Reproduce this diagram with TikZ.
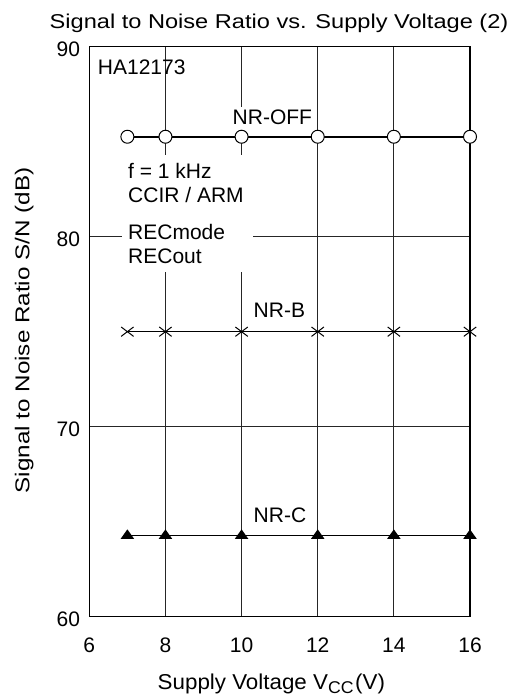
\documentclass[tikz,border=0pt]{standalone}
\usepackage{fontspec}
\setmainfont{Liberation Sans}
\begin{document}
\begin{tikzpicture}[x=38.07pt,y=19pt,
  lbl/.style={inner sep=0pt,font=\fontsize{21}{24}\selectfont},
  bigl/.style={inner sep=0pt,font=\fontsize{20}{24}\selectfont},
  gridln/.style={black!85,line width=0.9pt},
  frameln/.style={black,line width=1.3pt},
  dataln/.style={black,line width=1.6pt},
  ocirc/.pic={\draw[black,line width=1pt,fill=white] (0,0) circle (6.5pt);},
  xcross/.pic={\draw[black,line width=1pt] (-6.2pt,-4.7pt) -- (6.2pt,4.7pt) (-6.2pt,4.7pt) -- (6.2pt,-4.7pt);},
  tri/.pic={\fill[black] (0,6pt) -- (6.7pt,-3.4pt) -- (-6.7pt,-3.4pt) -- cycle;}
]
\useasboundingbox (3.6543,55.7211) rectangle (17.2083,92.4579);
\fill[white] (3.6543,55.7211) rectangle (17.2083,92.4579);
% grid
\foreach \v in {8,10,12,14} \draw[gridln] (\v,60) -- (\v,90);
\foreach \d in {70,80} \draw[gridln] (6,\d) -- (16,\d);
% white boxes behind labels
\fill[white] (6.851,84.3) rectangle (10.292,78.158);
\fill[white] (9.72,86.826) rectangle (11.85,85.626);
% frame
\draw[frameln] (6,60) rectangle (16,90);
% tick labels
\foreach \d in {60,70,80,90} \node[lbl,anchor=base east] (ty\d) at (5.761,\d-0.54) {\d};
\foreach \v in {6,8,10,12,14,16} \node[lbl,anchor=base] (tx\v) at (\v,58.09) {\v};
% titles
\node[bigl,anchor=base,xscale=1.18] (title) at (10.983,90.968) {Signal to Noise Ratio vs. Supply Voltage (2)};
\node[inner sep=0pt,font=\fontsize{21.5}{24}\selectfont,anchor=base west,xscale=1.04] (xtitle) at (7.792,56.179) {Supply Voltage V\raisebox{-4pt}{\fontsize{17}{18}\selectfont CC}\kern1.5pt(V)};
\node[bigl,anchor=base,rotate=90,xscale=1.21] (ytitle) at (4.424,75.063) {Signal to Noise Ratio S/N (dB)};
% labels
\node[lbl,anchor=base west] (ha) at (6.2207,88.547) {HA12173};
\node[lbl,anchor=base west] (nroff) at (9.7615,85.916) {NR-OFF};
\node[lbl,anchor=base west] (f1) at (7.0166,83.074) {f = 1 kHz};
\node[lbl,anchor=base west] (ccir) at (7.0166,81.811) {CCIR / ARM};
\node[lbl,anchor=base west] (recm) at (7.0166,79.863) {RECmode};
\node[lbl,anchor=base west] (reco) at (7.0166,78.563) {RECout};
\node[lbl,anchor=base west] (nrb) at (10.313,75.758) {NR-B};
\node[lbl,anchor=base west] (nrc) at (10.313,64.968) {NR-C};
% data
\draw[dataln] (7,85.26) -- (16,85.26);
\draw[dataln] (7,75.0) -- (16,75.0);
\draw[dataln] (7,64.28) -- (16,64.28);
\foreach \v in {7,8,10,12,14,16} {
  \pic at (\v,85.26) {ocirc};
  \pic at (\v,75.0) {xcross};
  \pic at (\v,64.28) {tri};
}
\end{tikzpicture}
\end{document}
